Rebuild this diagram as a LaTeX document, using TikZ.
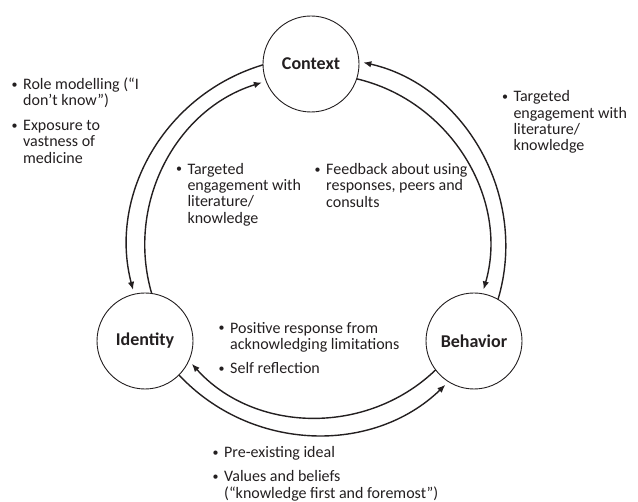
\documentclass[tikz,border=0pt]{standalone}
\usepackage{fontspec}
\setmainfont{Carlito}
\usetikzlibrary{arrows.meta}
\definecolor{ink}{HTML}{231F20}
\newcommand\bulletmark{\makebox[11.5pt][l]{\raisebox{1.4pt}{\fontsize{12}{12}\selectfont\textbullet}}}
\newcommand\indentmark{\hspace*{11.5pt}}
\begin{document}
\begin{tikzpicture}[x=1pt,y=1pt,
  state/.style={circle,draw=ink,line width=0.9pt,minimum size=96pt,inner sep=0pt,outer sep=0pt,
    font=\fontsize{18}{20}\selectfont\bfseries,text=ink},
  link/.style={draw=ink,line width=1.4pt,-{Latex[length=8pt,width=6.5pt]},shorten >=4.5pt},
  note/.style={anchor=base west,inner sep=0pt,align=left,text=ink,font=\fontsize{16}{16.3}\selectfont},
]
\useasboundingbox (0,0) rectangle (638,502);
\node[state] (ctx) at (311,438) {Context};
\node[state] (idn) at (145,161) {Identity};
\node[state] (beh) at (474,161) {Behavior};

\draw[link] (ctx.181) to[bend right=44] (idn.103);
\draw[link] (idn.82) to[bend left=44.5] (ctx.201);
\draw[link] (beh.60) to[bend right=47] (ctx.3);
\draw[link] (ctx.-18) to[bend left=46.5] (beh.80);
\draw[link] (beh.217) to[bend left=46] (idn.-24);
\draw[link] (idn.-45) to[bend right=45.5] (beh.238);

\node[note] (n1) at (11.5,338.7) {\bulletmark Role modelling (“I\\\indentmark don’t know”)\\[8.5pt]\bulletmark Exposure to\\\indentmark vastness of\\\indentmark medicine};
\node[note] (n2) at (501.8,351.3) {\bulletmark Targeted\\\indentmark engagement with\\\indentmark literature/\\\indentmark knowledge};
\node[note] (n3) at (175.8,278.7) {\bulletmark Targeted\\\indentmark engagement with\\\indentmark literature/\\\indentmark knowledge};
\node[note] (n4) at (314.5,294.7) {\bulletmark Feedback about using\\\indentmark responses, peers and\\\indentmark consults};
\node[note] (n5) at (218.5,128) {\bulletmark Positive response from\\\indentmark acknowledging limitations\\[8pt]\bulletmark Self reflection};
\node[note] (n6) at (212.5,3.7) {\bulletmark Pre-existing ideal\\[8pt]\bulletmark Values and beliefs\\\indentmark (“knowledge first and foremost”)};
\end{tikzpicture}
\end{document}
